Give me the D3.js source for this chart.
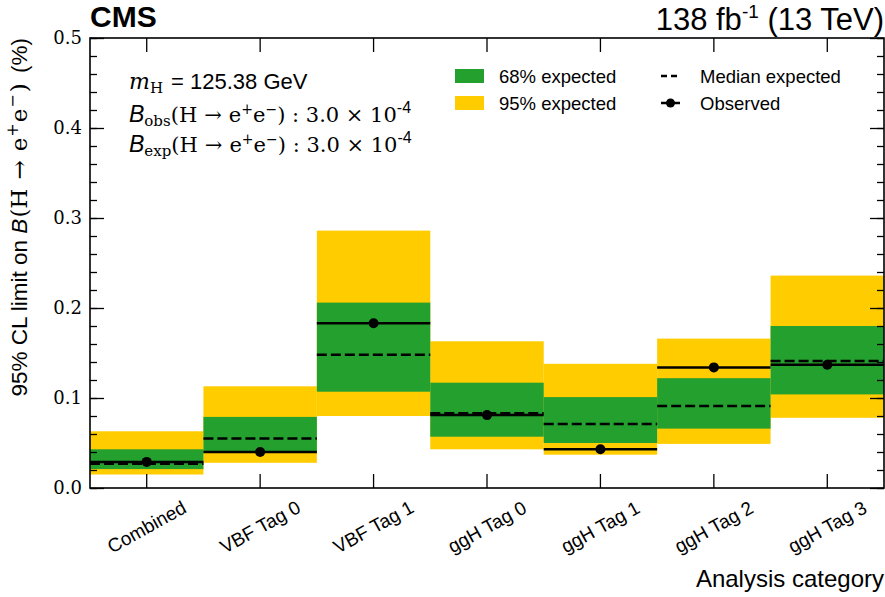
<!DOCTYPE html>
<html><head><meta charset="utf-8">
<script src="https://cdn.jsdelivr.net/npm/d3@7"></script>
<style>
html,body{margin:0;padding:0;background:#fff;}
svg{display:block;}
.sans{font-family:"Liberation Sans",Arial,Helvetica,sans-serif;}
</style></head>
<body>
<svg id="chart" width="885" height="597"></svg>
<script>
const categories = ["Combined","VBF Tag 0","VBF Tag 1","ggH Tag 0","ggH Tag 1","ggH Tag 2","ggH Tag 3"];
const observed   = [0.029, 0.040, 0.183, 0.081, 0.043, 0.134, 0.137];
const median     = [0.027, 0.055, 0.148, 0.083, 0.071, 0.091, 0.141];
const band68Lo   = [0.021, 0.039, 0.107, 0.057, 0.050, 0.066, 0.104];
const band68Hi   = [0.043, 0.079, 0.206, 0.117, 0.101, 0.122, 0.180];
const band95Lo   = [0.015, 0.028, 0.080, 0.043, 0.037, 0.049, 0.078];
const band95Hi   = [0.063, 0.113, 0.286, 0.163, 0.138, 0.166, 0.236];
const yMajorTicks = [0.0, 0.1, 0.2, 0.3, 0.4, 0.5];
const yMinorTicks = d3.range(0, 0.5001, 0.02);

const rows = categories.map((c,i)=>({c, obs:observed[i], med:median[i], lo68:band68Lo[i], hi68:band68Hi[i], lo95:band95Lo[i], hi95:band95Hi[i]}));

const L=90, R=884, T=38, B=488;
const GREEN="#24a02e", YELLOW="#ffcc00";
const SERIF="DejaVu Serif, serif", SANS="Liberation Sans, Arial, sans-serif";
const svg=d3.select("#chart");
const x=d3.scaleBand().domain(categories).range([L,R]).padding(0);
const y=d3.scaleLinear().domain([0,0.5]).range([B,T]);

const g=svg.append("g");
g.selectAll("rect.b95").data(rows).join("rect").attr("class","b95")
 .attr("x",d=>x(d.c)).attr("width",x.bandwidth())
 .attr("y",d=>y(d.hi95)).attr("height",d=>y(d.lo95)-y(d.hi95)).attr("fill",YELLOW);
g.selectAll("rect.b68").data(rows).join("rect").attr("class","b68")
 .attr("x",d=>x(d.c)).attr("width",x.bandwidth())
 .attr("y",d=>y(d.hi68)).attr("height",d=>y(d.lo68)-y(d.hi68)).attr("fill",GREEN);
g.selectAll("line.med").data(rows).join("line").attr("class","med")
 .attr("x1",d=>x(d.c)).attr("x2",d=>x(d.c)+x.bandwidth())
 .attr("y1",d=>y(d.med)).attr("y2",d=>y(d.med))
 .attr("stroke","#000").attr("stroke-width",2.5).attr("stroke-dasharray","10,4");
g.selectAll("line.obs").data(rows).join("line").attr("class","obs")
 .attr("x1",d=>x(d.c)).attr("x2",d=>x(d.c)+x.bandwidth())
 .attr("y1",d=>y(d.obs)).attr("y2",d=>y(d.obs))
 .attr("stroke","#000").attr("stroke-width",2.5);
g.selectAll("circle.obs").data(rows).join("circle").attr("class","obs")
 .attr("cx",d=>x(d.c)+x.bandwidth()/2).attr("cy",d=>y(d.obs)).attr("r",5).attr("fill","#000");

function styleAxis(sel){ sel.select(".domain").remove(); sel.selectAll(".tick line").attr("stroke","#000").attr("stroke-width",1.3); }
const yl=svg.append("g").attr("transform",`translate(${L},0)`)
 .call(d3.axisLeft(y).tickValues(yMajorTicks).tickSize(-14).tickPadding(8).tickFormat(d3.format(".1f")));
styleAxis(yl);
yl.selectAll(".tick text").attr("font-size",18).attr("fill","#000").attr("font-family",SERIF);
const ylm=svg.append("g").attr("transform",`translate(${L},0)`)
 .call(d3.axisLeft(y).tickValues(yMinorTicks).tickSize(-7).tickFormat(""));
styleAxis(ylm);
const yr=svg.append("g").attr("transform",`translate(${R},0)`)
 .call(d3.axisRight(y).tickValues(yMajorTicks).tickSize(-14).tickFormat(""));
styleAxis(yr);
const yrm=svg.append("g").attr("transform",`translate(${R},0)`)
 .call(d3.axisRight(y).tickValues(yMinorTicks).tickSize(-7).tickFormat(""));
styleAxis(yrm);
const xb=svg.append("g").attr("transform",`translate(0,${B})`)
 .call(d3.axisBottom(x).tickSize(-14).tickFormat(""));
styleAxis(xb);
const xt=svg.append("g").attr("transform",`translate(0,${T})`)
 .call(d3.axisTop(x).tickSize(-14).tickFormat(""));
styleAxis(xt);
svg.append("g").selectAll("text").data(categories).join("text")
 .attr("class","sans").attr("font-size",19).attr("text-anchor","middle").attr("dominant-baseline","central")
 .attr("transform",c=>`translate(${x(c)+x.bandwidth()/2},527) rotate(-29)`)
 .text(c=>c);

svg.append("rect").attr("x",L).attr("y",T).attr("width",R-L).attr("height",B-T)
 .attr("fill","none").attr("stroke","#000").attr("stroke-width",1.6);

svg.append("text").attr("class","sans").attr("x",L).attr("y",27).attr("font-size",30).attr("font-weight","bold").text("CMS");
const lumi=svg.append("text").attr("class","sans").attr("x",R).attr("y",30).attr("font-size",31).attr("text-anchor","end");
lumi.append("tspan").text("138 fb");
lumi.append("tspan").attr("dy",-12).attr("font-size",19).text("-1");
lumi.append("tspan").attr("dy",12).text(" (13 TeV)");

svg.append("text").attr("class","sans").attr("x",R).attr("y",587).attr("font-size",24).attr("text-anchor","end").text("Analysis category");

// y label
const ylab=svg.append("text").attr("class","sans").attr("font-size",22.5).attr("text-anchor","end")
 .attr("transform","translate(27,38) rotate(-90)");
ylab.append("tspan").text("95% CL limit on ");
ylab.append("tspan").attr("font-style","italic").text("B");
ylab.append("tspan").attr("font-family",SERIF).attr("font-size",23).attr("dx",1).text("(H");
ylab.append("tspan").attr("font-family",SERIF).attr("font-size",23).attr("dx",9).text("→");
ylab.append("tspan").attr("font-family",SERIF).attr("font-size",23).attr("dx",9).text("e");
ylab.append("tspan").attr("font-family",SERIF).attr("font-size",16).attr("dy",-9).attr("dx",1).text("+");
ylab.append("tspan").attr("font-family",SERIF).attr("font-size",23).attr("dy",9).attr("dx",1).text("e");
ylab.append("tspan").attr("font-family",SERIF).attr("font-size",16).attr("dy",-9).attr("dx",1).text("−");
ylab.append("tspan").attr("font-family",SERIF).attr("font-size",23).attr("dy",9).attr("dx",2).text(")");
ylab.append("tspan").attr("dx",4).text(" (%)");

// annotations
const a1=svg.append("text").attr("x",129).attr("y",89).attr("font-size",22);
a1.append("tspan").attr("font-family",SERIF).attr("font-style","italic").text("m");
a1.append("tspan").attr("font-family",SERIF).attr("font-size",15).attr("dy",4).text("H");
a1.append("tspan").attr("font-family",SANS).attr("dy",-4).attr("dx",2).text(" = 125.38 GeV");
function brLine(yy, sub){
  const t=svg.append("text").attr("x",129).attr("y",yy).attr("font-size",21).attr("font-family",SERIF);
  t.append("tspan").attr("font-family",SANS).attr("font-style","italic").attr("font-size",23).text("B");
  t.append("tspan").attr("font-size",15).attr("dy",4).text(sub);
  t.append("tspan").attr("dy",-4).attr("font-size",21).text("(H");
  t.append("tspan").attr("font-size",21).attr("dx",7).text("→");
  t.append("tspan").attr("font-size",21).attr("dx",7).text("e");
  t.append("tspan").attr("font-size",14).attr("dy",-8).text("+");
  t.append("tspan").attr("font-size",21).attr("dy",8).text("e");
  t.append("tspan").attr("font-size",14).attr("dy",-8).text("−");
  t.append("tspan").attr("font-size",21).attr("dy",8).text(") : 3.0 × 10");
  t.append("tspan").attr("font-family",SANS).attr("font-size",16).attr("dy",-9).text("-4");
}
brLine(122,"obs");
brLine(152,"exp");

// legend
const lg=svg.append("g").attr("class","sans").attr("font-size",18.5);
lg.append("rect").attr("x",455).attr("y",69).attr("width",29).attr("height",14).attr("fill",GREEN);
lg.append("rect").attr("x",455).attr("y",96).attr("width",29).attr("height",14).attr("fill",YELLOW);
lg.append("text").attr("x",499).attr("y",83).text("68% expected");
lg.append("text").attr("x",499).attr("y",110).text("95% expected");
lg.append("line").attr("x1",661).attr("x2",680).attr("y1",76).attr("y2",76).attr("stroke","#000").attr("stroke-width",2.5).attr("stroke-dasharray","6,4");
lg.append("line").attr("x1",661).attr("x2",680).attr("y1",103).attr("y2",103).attr("stroke","#000").attr("stroke-width",2.5);
lg.append("circle").attr("cx",670.5).attr("cy",103).attr("r",4.5).attr("fill","#000");
lg.append("text").attr("x",700).attr("y",83).text("Median expected");
lg.append("text").attr("x",700).attr("y",110).text("Observed");
</script>
</body></html>
